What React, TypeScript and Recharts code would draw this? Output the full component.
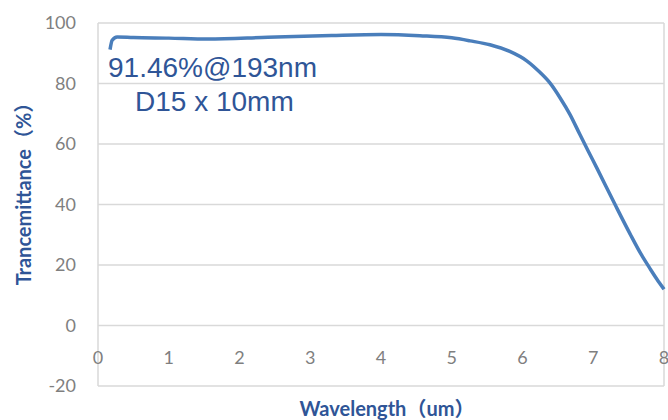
import { LineChart, Line, XAxis, YAxis, CartesianGrid, ReferenceLine } from 'recharts'

// ─── Data ─────────────────────────────────────────────────────────────────────

const WAVELENGTH = [
  0.17, 0.2, 0.27, 0.5, 1.0, 1.55, 2.4, 3.3, 4.0, 4.55, 5.0, 5.26, 5.54, 5.82,
  6.06, 6.25, 6.39, 6.53, 6.67, 6.81, 6.93, 7.05, 7.31, 7.52, 7.68, 7.8, 7.9, 8.0,
]
const TRANSMITTANCE = [
  91.2, 94.3, 95.4, 95.2, 95.0, 94.7, 95.3, 95.9, 96.2, 95.8, 95.1, 94.1, 92.8, 90.6,
  87.5, 83.6, 80.1, 75.3, 69.8, 63.2, 57.6, 52.1, 39.9, 30.3, 23.4, 18.9, 15.3, 12.0,
]
const X_TICKS = [0, 1, 2, 3, 4, 5, 6, 7, 8]
const Y_TICKS = [-20, 0, 20, 40, 60, 80, 100]
const NOTE_LINES = ['91.46%@193nm', 'D15 x 10mm']

const data = WAVELENGTH.map((x, i) => ({ x, t: TRANSMITTANCE[i] }))

// ─── Styles ───────────────────────────────────────────────────────────────────

const GRID = '#d9d9d9'
const TICK = '#7f7f7f'
const TITLE = '#2f5597'
const LINE = '#4a7ebb'
const TICK_FONT = 'Lato, "Open Sans", sans-serif'
const TITLE_FONT = 'Lato, "Noto Sans CJK SC", sans-serif'
const NOTE_FONT = '"Liberation Sans", Arial, sans-serif'

// x labels sit just under the y=0 line, Excel style
function XTick({ x, y, payload }: { x?: number; y?: number; payload?: { value: number } }) {
  return (
    <text x={x} y={(y ?? 0) - 29} textAnchor="middle" dominantBaseline="central"
      fill={TICK} fontSize={18} fontFamily={TICK_FONT}>
      {payload?.value}
    </text>
  )
}

export default function App() {
  return (
    <div style={{ position: 'absolute', left: 0, top: 0, width: 668, height: 420 }}>
      <LineChart width={668} height={420} data={data}
        margin={{ top: 23, right: 4, left: 0, bottom: 0 }}>
        <CartesianGrid vertical={false} stroke={GRID} strokeWidth={1.5} />
        <XAxis
          dataKey="x"
          type="number"
          domain={[0, 8]}
          ticks={X_TICKS}
          axisLine={false}
          tickLine={false}
          tickSize={0}
          tickMargin={0}
          height={34}
          tick={<XTick />}
          interval={0}
        />
        <YAxis
          type="number"
          domain={[-20, 100]}
          ticks={Y_TICKS}
          axisLine={false}
          tickLine={false}
          tickSize={0}
          tickMargin={22}
          width={98}
          tick={{ fontSize: 18, fill: TICK, fontFamily: TICK_FONT }}
          interval={0}
        />
        <ReferenceLine x={0} stroke={GRID} strokeWidth={1.5} />
        <ReferenceLine x={8} stroke={GRID} strokeWidth={1.5} />
        <Line
          dataKey="t"
          type="monotone"
          stroke={LINE}
          strokeWidth={3.5}
          dot={false}
          activeDot={false}
          isAnimationActive={false}
        />
      </LineChart>

      {/* titles and note */}
      <svg width={668} height={420}
        style={{ position: 'absolute', left: 0, top: 0, pointerEvents: 'none' }}>
        <text x={108} y={77} fill={TITLE} fontSize={28} fontFamily={NOTE_FONT}>
          {NOTE_LINES[0]}
        </text>
        <text x={135} y={111} fill={TITLE} fontSize={28} fontFamily={NOTE_FONT}>
          {NOTE_LINES[1]}
        </text>
        <text x={387} y={408} textAnchor="middle" dominantBaseline="central" fill={TITLE}
          fontSize={20} fontWeight="bold" fontFamily={TITLE_FONT}>
          Wavelength（um）
        </text>
        <text x={23} y={189} textAnchor="middle" dominantBaseline="central" fill={TITLE}
          fontSize={20} fontWeight="bold" fontFamily={TITLE_FONT}
          transform="rotate(-90 23 189)">
          Trancemittance（%）
        </text>
      </svg>
    </div>
  )
}
